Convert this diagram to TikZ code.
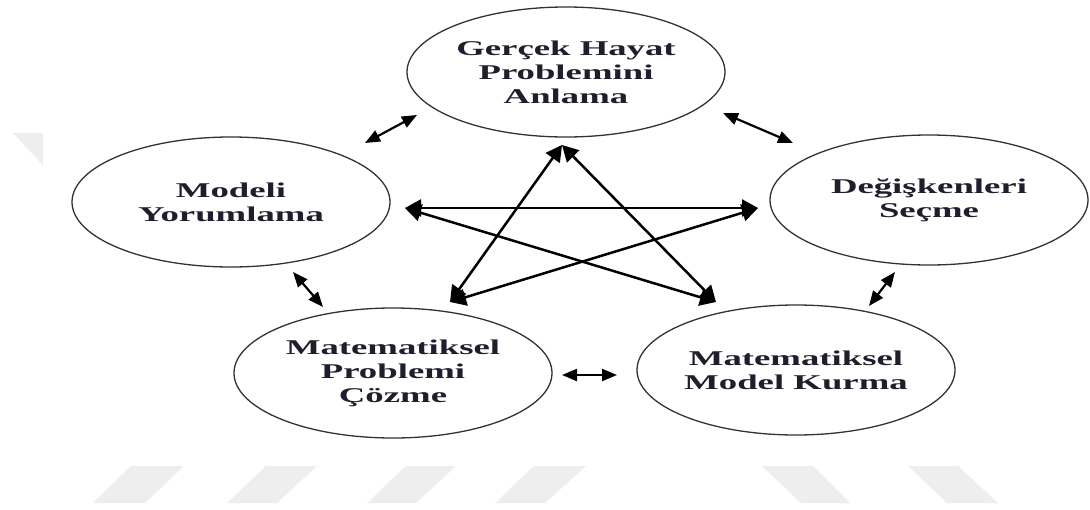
\documentclass[tikz,border=0pt]{standalone}
\usepackage{fontspec}
\setmainfont{Liberation Serif}
\newfontfamily\labelfont[FakeStretch=1.75]{Liberation Serif}
\usetikzlibrary{shapes.geometric,arrows.meta}
\definecolor{textcol}{RGB}{30,30,45}
\definecolor{ellcol}{RGB}{50,50,50}
\definecolor{wmgray}{RGB}{238,238,238}
\begin{document}
\begin{tikzpicture}[x=1pt,y=-1pt,
  stage/.style={draw=ellcol, line width=1.3pt, ellipse, minimum width=318pt, minimum height=130pt,
    inner sep=0pt, align=center, text=textcol,
    font=\labelfont\bfseries\fontsize{21}{24}\selectfont},
  starlink/.style={line width=2.5pt, {Triangle[length=16pt,width=17pt]}-{Triangle[length=16pt,width=17pt]}},
  link/.style={line width=2.2pt, {Triangle[length=15pt,width=12pt]}-{Triangle[length=15pt,width=12pt]}},
  wm/.style={fill=wmgray, draw=none}]
\useasboundingbox (0,0) rectangle (1090,509);
\fill[white] (0,0) rectangle (1090,509);
% watermark shapes
\fill[wm] (13,133) -- (43,133) -- (43,165) -- cycle;
\fill[wm] (131,466) -- (184,466) -- (145,503) -- (93,503) -- cycle;
\fill[wm] (266,466) -- (317,466) -- (277,503) -- (227,503) -- cycle;
\fill[wm] (406,466) -- (456,466) -- (416,503) -- (367,503) -- cycle;
\fill[wm] (534,466) -- (586,466) -- (545,503) -- (495,503) -- cycle;
\fill[wm] (762,466) -- (813,466) -- (850,503) -- (801,503) -- cycle;
\fill[wm] (908,466) -- (958,466) -- (998,503) -- (947,503) -- cycle;
% stages
\node[stage] (real) at (566,72) {Gerçek Hayat\\Problemini\\Anlama};
\node[stage] (interp) at (231,202) {Modeli\\Yorumlama};
\node[stage] (vars) at (929,200) {Değişkenleri\\Seçme};
\node[stage] (solve) at (393,373) {Matematiksel\\Problemi\\Çözme};
\node[stage] (model) at (796,370) {Matematiksel\\Model Kurma};
% star vertices
\coordinate (vt) at (562,145);
\coordinate (vl) at (405,208);
\coordinate (vr) at (758,208);
\coordinate (vbl) at (450,302);
\coordinate (vbr) at (716,302);
\draw[starlink] (vt) -- (vbl);
\draw[starlink] (vt) -- (vbr);
\draw[starlink] (vl) -- (vr);
\draw[starlink] (vl) -- (vbr);
\draw[starlink] (vr) -- (vbl);
% short links
\coordinate (a1s) at (365,143); \coordinate (a1e) at (417,115);
\coordinate (a2s) at (723,113); \coordinate (a2e) at (793,143);
\coordinate (a3s) at (895,272); \coordinate (a3e) at (869,306);
\coordinate (a4s) at (293,272); \coordinate (a4e) at (323,307);
\coordinate (a5s) at (562,375); \coordinate (a5e) at (617,375);
\draw[link] (a1s) -- (a1e);
\draw[link] (a2s) -- (a2e);
\draw[link] (a3s) -- (a3e);
\draw[link] (a4s) -- (a4e);
\draw[link] (a5s) -- (a5e);
\end{tikzpicture}
\end{document}
